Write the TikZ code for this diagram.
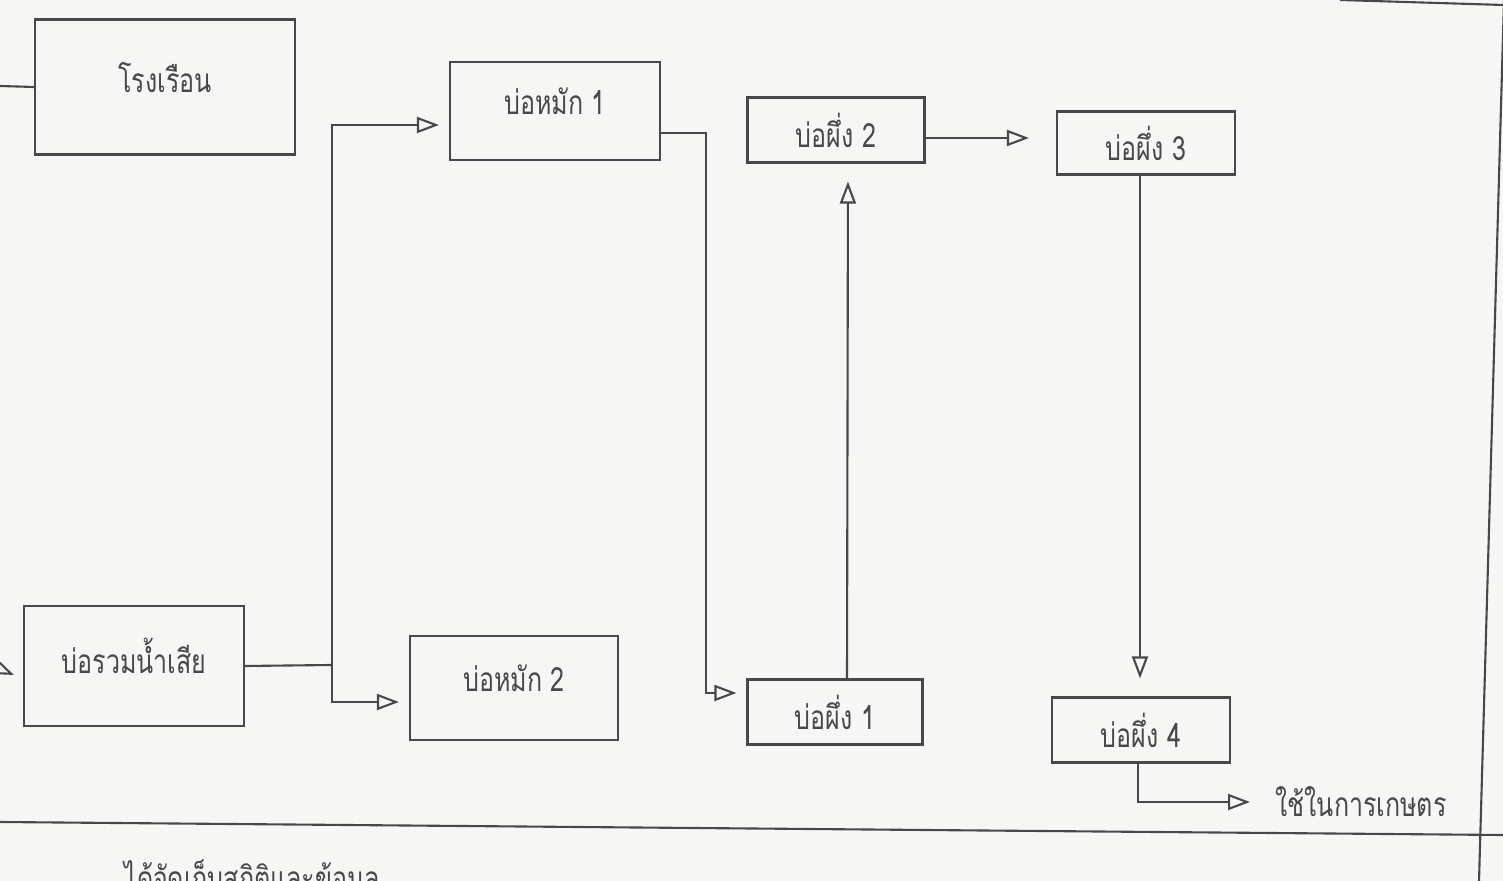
\documentclass[tikz,border=0pt]{standalone}
\usepackage{fontspec}
\newfontfamily\thaifont[Script=Thai, FakeStretch=0.75]{Loma}
\usetikzlibrary{arrows.meta, positioning}
\definecolor{ink}{RGB}{72,72,72}
\definecolor{paper}{RGB}{246,246,244}

\begin{document}
\begin{tikzpicture}[x=0.1mm, y=-0.1mm, font=\thaifont\fontsize{9.5}{11}\selectfont, text=ink,
                    pond/.style={draw=ink, line width=0.6pt},
                    bigpond/.style={pond, text depth=2mm},
                    pipe/.style={draw=ink, line width=0.6pt},
                    flow/.style={pipe, -{Triangle[open, length=2.2mm, width=1.6mm]}}]
                        % Page:
                        \useasboundingbox[fill=paper] (0,0) rectangle (1503,881);
                        \draw[pipe] (0,822) -- (1503,835);
                        \draw[pipe] (1340,0) -- (1503,5);
                        \draw[pipe] (1504,0) -- (1479,881);

                        % Ponds:
                        \node[bigpond, minimum width=2.6cm, minimum height=1.35cm] (house) at (165,87) {โรงเรือน};
                        \node[bigpond, minimum width=2.2cm, minimum height=1.2cm] (sump) at (134,666) {บ่อรวมน้ำเสีย};
                        \node[bigpond, minimum width=2.1cm, minimum height=0.98cm] (dig1) at (555,111) {บ่อหมัก 1};
                        \node[bigpond, minimum width=2.08cm, minimum height=1.04cm] (dig2) at (514,688) {บ่อหมัก 2};
                        \node[pond, minimum width=1.75cm, minimum height=0.65cm] (fac1) at (835,712) {บ่อผึ่ง 1};
                        \node[pond, minimum width=1.77cm, minimum height=0.65cm] (fac2) at (836,130) {บ่อผึ่ง 2};
                        \node[pond, minimum width=1.78cm, minimum height=0.63cm] (fac3) at (1146,143) {บ่อผึ่ง 3};
                        \node[pond, minimum width=1.78cm, minimum height=0.65cm] (fac4) at (1141,730) {บ่อผึ่ง 4};
                        \node[anchor=west] (use) at (1263,802) {ใช้ในการเกษตร};
                        \node[anchor=base west] (note) at (112,891) {ได้จัดเก็บสถิติและข้อมูล};

                        \coordinate (split) at (332,665);
                        \coordinate (houseIn) at (0,86);
                        \coordinate (sumpOut) at (0,669);
                        \coordinate (sumpIn) at (14,675);

                        % Flows:
                        \draw[pipe] (houseIn) -- (house.west);
                        \draw[flow] (sumpOut) -- (sumpIn);
                        \draw[pipe] (sump.east) -- (split);
                        \draw[flow, shorten >=1mm] (split) |- ([yshift=-1.4mm]dig1.west);
                        \draw[flow, shorten >=1mm] (split) |- ([yshift=-1.4mm]dig2.west);
                        \draw[flow, shorten >=1mm] ([yshift=-2.2mm]dig1.east) -- ++(45,0) |- ([yshift=1.9mm]fac1.west);
                        \draw[flow, shorten >=1.8mm] ([xshift=1.2mm]fac1.north) -- ([xshift=1.2mm]fac2.south);
                        \draw[flow, shorten >=2.7mm] ([yshift=-0.8mm]fac2.east) -- ([yshift=-0.8mm]fac2.east -| fac3.west);
                        \draw[flow, shorten >=1.8mm] ([xshift=-0.6mm]fac3.south) -- ([xshift=-0.6mm]fac3.south |- fac4.north);
                        \draw[flow, shorten >=1.3mm] ([xshift=-0.3mm]fac4.south) |- (use.west);
                    \end{tikzpicture}
\end{document}
